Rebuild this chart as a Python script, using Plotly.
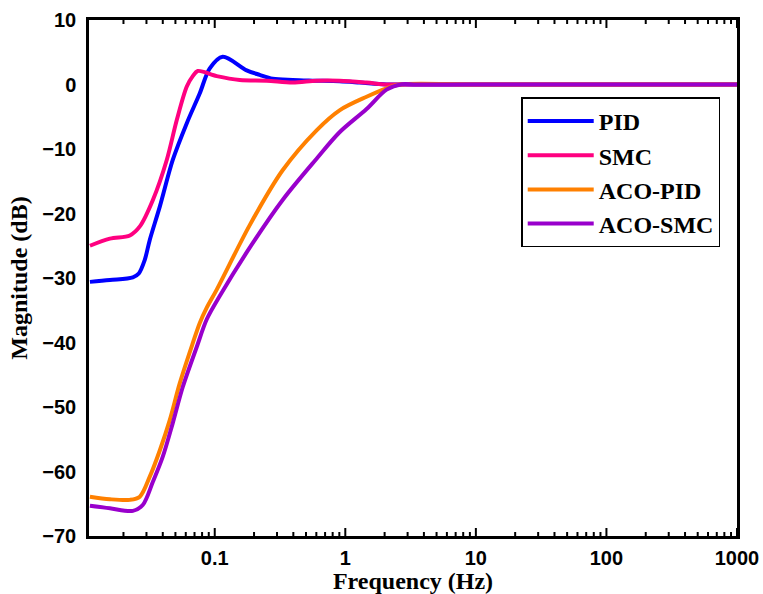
import plotly.graph_objects as go

# ---- data ----
pid_f = [0.01107, 0.01574, 0.0236, 0.0262, 0.0290, 0.0318, 0.0380, 0.0477, 0.0611,
         0.0767, 0.0916, 0.1151, 0.1757, 0.2208, 0.2778, 0.3951, 0.5623, 0.9036,
         1.285, 2.07, 3.0, 10, 100, 1000]
pid_db = [-30.6, -30.3, -29.9, -29.3, -27.3, -24.1, -18.9, -11.7, -6.0,
          -1.4, 2.5, 4.3, 2.2, 1.5, 0.9, 0.7, 0.6, 0.5,
          0.3, 0.0, 0.0, 0.0, 0.0, 0.0]

smc_f = [0.01107, 0.01574, 0.02239, 0.02669, 0.0336, 0.0429, 0.0512, 0.0611,
         0.0679, 0.0741, 0.1036, 0.1553, 0.25, 0.3951, 0.6026, 0.9036, 1.455,
         2.07, 3.0, 10, 100, 1000]
smc_db = [-25.0, -23.9, -23.4, -22.0, -17.9, -11.7, -5.5, -0.3,
          1.3, 2.1, 1.3, 0.7, 0.6, 0.3, 0.6, 0.6, 0.3,
          0.0, 0.0, 0.0, 0.0, 0.0]

acopid_f = [0.01107, 0.01574, 0.02239, 0.02669, 0.0318, 0.0380, 0.0453, 0.0540,
            0.0679, 0.0767, 0.0869, 0.1036, 0.1854, 0.3311, 0.6026, 0.9036,
            1.455, 2.07, 2.60, 10, 100, 1000]
acopid_db = [-63.9, -64.3, -64.4, -63.9, -60.8, -56.7, -52.0, -46.3,
             -40.1, -37.0, -34.6, -31.8, -21.8, -13.3, -7.1, -4.0,
             -1.9, -0.6, 0.0, 0.0, 0.0, 0.0]

acosmc_f = [0.01107, 0.01574, 0.0236, 0.0281, 0.0336, 0.0400, 0.0477, 0.0569,
            0.0728, 0.0869, 0.1092, 0.1854, 0.3311, 0.6026, 0.9036, 1.455,
            2.07, 2.7, 3.5, 10, 100, 1000]
acosmc_db = [-65.3, -65.7, -66.1, -65.2, -61.6, -57.7, -52.5, -46.9,
             -40.7, -36.4, -32.8, -25.3, -17.9, -11.5, -7.4, -3.8,
             -0.8, 0.05, 0.0, 0.0, 0.0, 0.0]

series_names = ["PID", "SMC", "ACO-PID", "ACO-SMC"]
series_colors = ["#0000FF", "#FF0080", "#FF8000", "#9900CC"]

x_major_ticks = [0.1, 1, 10, 100, 1000]
x_major_labels = ["0.1", "1", "10", "100", "1000"]
x_minor_ticks = [0.02, 0.03, 0.04, 0.05, 0.06, 0.07, 0.08, 0.09,
                 0.2, 0.3, 0.4, 0.5, 0.6, 0.7, 0.8, 0.9,
                 2, 3, 4, 5, 6, 7, 8, 9,
                 20, 30, 40, 50, 60, 70, 80, 90,
                 200, 300, 400, 500, 600, 700, 800, 900]
y_tickvals = [10, 0, -10, -20, -30, -40, -50, -60, -70]

fig = go.Figure()
for name, color, f, m in zip(series_names, series_colors,
                             [pid_f, smc_f, acopid_f, acosmc_f],
                             [pid_db, smc_db, acopid_db, acosmc_db]):
    fig.add_trace(go.Scatter(x=f, y=m, mode="lines", name=name,
                             line=dict(color=color, width=4, shape="spline",
                                       smoothing=0.9)))

# inward tick marks on bottom and top edges (major and minor), sized in pixels
for vals, length, width in [(x_major_ticks, 8, 2), (x_minor_ticks, 4, 2)]:
    for v in vals:
        for anchor, direction in [(0, 1), (1, -1)]:
            fig.add_shape(type="line", xref="x", yref="y domain",
                          x0=v, x1=v, ysizemode="pixel", yanchor=anchor,
                          y0=0, y1=direction * length,
                          line=dict(color="black", width=width), layer="above")

tick_font = dict(family="Liberation Sans, Arial, sans-serif", size=20,
                 color="black", weight="bold")
title_font = dict(family="Liberation Serif, Times New Roman, serif", size=24,
                  color="black", weight="bold")

fig.update_layout(
    template="none",
    width=763, height=594,
    margin=dict(l=89, r=26, t=20, b=58, autoexpand=False),
    paper_bgcolor="white", plot_bgcolor="white",
    showlegend=True,
    legend=dict(x=0.667, y=0.85, xanchor="left", yanchor="top",
                bgcolor="white", bordercolor="black", borderwidth=1.5,
                font=dict(family="Liberation Serif, Times New Roman, serif",
                          size=24, color="black", weight="bold"),
                itemwidth=66, tracegroupgap=0),
    xaxis=dict(
        type="log", range=[-1.963, 3],
        tickmode="array", tickvals=x_major_ticks, ticktext=x_major_labels,
        ticks="",
        showline=True, linewidth=2.5, linecolor="black", mirror=True,
        showgrid=False, zeroline=False, automargin=False,
        tickfont=tick_font, ticklabelstandoff=2,
        title=dict(text="Frequency (Hz)", font=title_font, standoff=10),
    ),
    yaxis=dict(
        range=[-70, 10], tickvals=y_tickvals,
        ticks="", showline=True, linewidth=2.5, linecolor="black", mirror=True,
        showgrid=False, zeroline=False, automargin=False,
        tickfont=tick_font, ticklabelstandoff=6,
        title=dict(text="Magnitude (dB)", font=title_font, standoff=8),
    ),
)

fig.write_html("out.html")
